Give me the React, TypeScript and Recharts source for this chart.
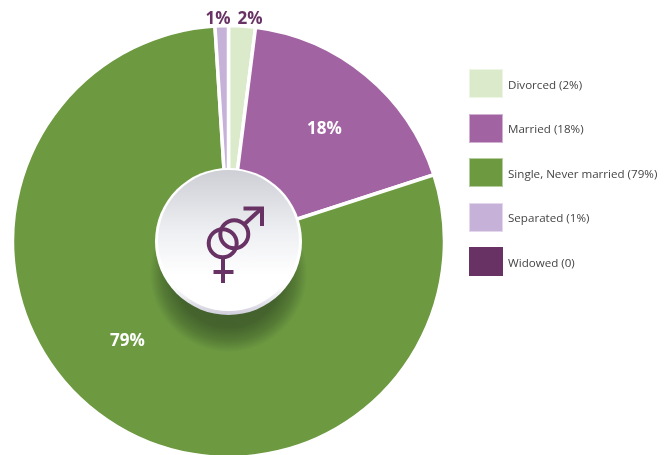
import { Legend, Pie, PieChart, Cell } from "recharts";

const categories = ["Divorced", "Married", "Single, Never married", "Separated", "Widowed"];
const values = [2, 18, 79, 1, 0];
const legendLabels = ["Divorced (2%)", "Married (18%)", "Single, Never married (79%)", "Separated (1%)", "Widowed (0)"];
const sliceLabels = ["2%", "18%", "79%", "1%", ""];
const colors = ["#dbeaca", "#a263a3", "#6d9a41", "#c6b1d8", "#683265"];

const data = categories.map((name, i) => ({ name, value: values[i] }));

const FONT = '"Open Sans", "Noto Sans", sans-serif';
const CX = 228.5;
const CY = 241.5;

// label anchors, relative to the pie centre
const labelOffsets = [
  { dx: 21.5, dy: -224.5, fill: "#683265" },
  { dx: 96, dy: -114, fill: "#ffffff" },
  { dx: -101, dy: 98, fill: "#ffffff" },
  { dx: -10.5, dy: -224.5, fill: "#683265" },
];

function SliceLabel({ index }: { index?: number }) {
  const o = labelOffsets[index ?? 0];
  if (!o) return null;
  return (
    <text
      x={CX + o.dx}
      y={CY + o.dy}
      fill={o.fill}
      textAnchor="middle"
      dominantBaseline="central"
      fontFamily={FONT}
      fontWeight={700}
      fontSize={17}
    >
      {sliceLabels[index ?? 0]}
    </text>
  );
}

function LegendList() {
  return (
    <div style={{ width: 203, fontFamily: FONT }}>
      {legendLabels.map((label, i) => (
        <div key={label} style={{ display: "flex", alignItems: "center", height: 29, marginBottom: 15.5 }}>
          <div
            style={{
              width: 34,
              height: 29,
              boxSizing: "border-box",
              background: colors[i],
              border: i === 4 ? "none" : "1px solid rgba(255,255,255,0.5)",
              marginRight: 5,
              flexShrink: 0,
            }}
          />
          <span style={{ fontSize: 11.6, color: "#444444", whiteSpace: "nowrap", position: "relative", top: 0.5 }}>
            {label}
          </span>
        </div>
      ))}
    </div>
  );
}

// the disc in the middle sits above the pie, so it gets its own layer
function CenterBadge() {
  return (
    <svg width={672} height={455} style={{ position: "absolute", left: 0, top: 0, pointerEvents: "none" }}>
      <defs>
        <radialGradient id="badgeShadow">
          <stop offset="0%" stopColor="#3f5c2a" />
          <stop offset="68%" stopColor="#44632d" />
          <stop offset="85%" stopColor="#557a35" />
          <stop offset="100%" stopColor="#6d9a41" />
        </radialGradient>
        <linearGradient id="badgeRim" x1="0" y1="0" x2="0" y2="1">
          <stop offset="0%" stopColor="#ffffff" />
          <stop offset="80%" stopColor="#ffffff" />
          <stop offset="100%" stopColor="#cfcedb" />
        </linearGradient>
        <linearGradient id="badgeFace" x1="0" y1="0" x2="0" y2="1">
          <stop offset="0%" stopColor="#cdcfd5" />
          <stop offset="45%" stopColor="#eff0f3" />
          <stop offset="75%" stopColor="#ffffff" />
          <stop offset="100%" stopColor="#ffffff" />
        </linearGradient>
      </defs>
      <circle cx={CX} cy={CY + 32} r={79} fill="url(#badgeShadow)" />
      <circle cx={CX} cy={CY} r={73.5} fill="url(#badgeRim)" />
      <circle cx={CX} cy={CY - 1} r={70.5} fill="url(#badgeFace)" />
      <g fill="none" stroke="#683265" strokeWidth={4}>
        <circle cx={222.7} cy={243.3} r={14} />
        <circle cx={234.3} cy={234.3} r={14} />
        <path d="M244 224.5L261 209" />
        <path d="M243.5 208.5H262V226" />
        <path d="M223 258V283" />
        <path d="M213.5 272H233.5" />
      </g>
    </svg>
  );
}

export default function App() {
  return (
    <div style={{ position: "fixed", left: 0, top: 0, width: 672, height: 455 }}>
      <PieChart width={672} height={455} margin={{ top: 0, right: 0, bottom: 0, left: 0 }}>
        <Pie
          data={data}
          dataKey="value"
          nameKey="name"
          cx={CX}
          cy={CY}
          innerRadius={0}
          outerRadius={216}
          startAngle={90}
          endAngle={-270}
          stroke="#ffffff"
          strokeWidth={3.5}
          label={<SliceLabel />}
          labelLine={false}
          isAnimationActive={false}
        >
          {data.map((d, i) => (
            <Cell key={d.name} fill={colors[i]} />
          ))}
        </Pie>
        <Legend
          content={<LegendList />}
          layout="vertical"
          wrapperStyle={{ position: "absolute", left: 469, top: 69, width: 203, bottom: "auto" }}
        />
      </PieChart>
      <CenterBadge />
    </div>
  );
}
